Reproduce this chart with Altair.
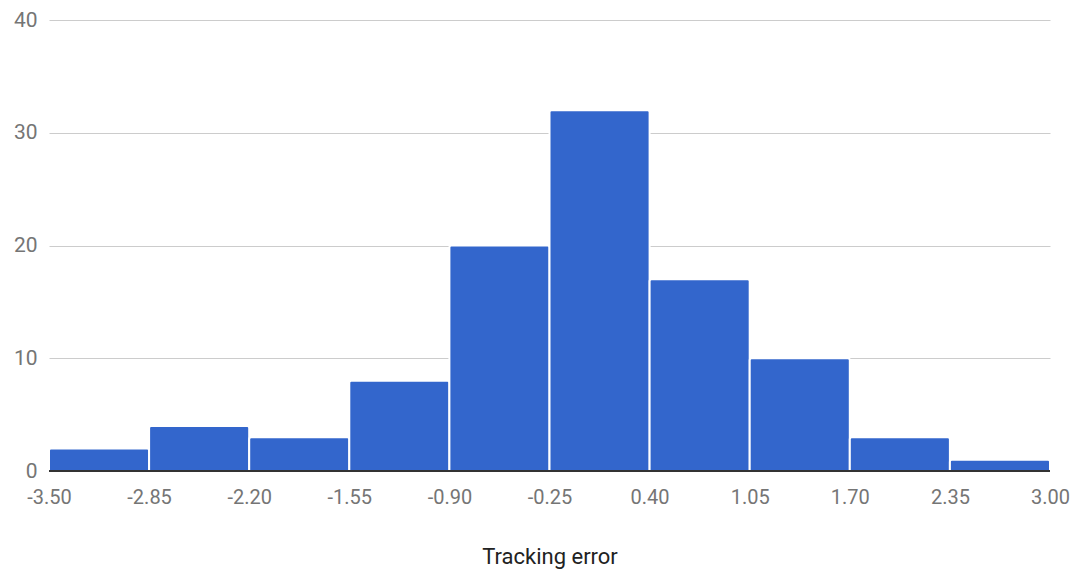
import altair as alt
import pandas as pd

bin_start = [-3.50, -2.85, -2.20, -1.55, -0.90, -0.25, 0.40, 1.05, 1.70, 2.35]
bin_end = [-2.85, -2.20, -1.55, -0.90, -0.25, 0.40, 1.05, 1.70, 2.35, 3.00]
counts = [2, 4, 3, 8, 20, 32, 17, 10, 3, 1]
tick_values = [-3.50, -2.85, -2.20, -1.55, -0.90, -0.25, 0.40, 1.05, 1.70, 2.35, 3.00]
y_ticks = [0, 10, 20, 30, 40]

df = pd.DataFrame({"start": bin_start, "end": bin_end, "count": counts})

font = "Roboto"

bars = alt.Chart(df).mark_bar(
    color="#3366cc",
    stroke="white",
    strokeWidth=2,
    cornerRadiusTopLeft=2,
    cornerRadiusTopRight=2,
    orient="vertical",
).encode(
    x=alt.X(
        "start:Q",
        scale=alt.Scale(domain=[-3.5, 3.0], nice=False, zero=False, padding=0),
        axis=alt.Axis(
            values=tick_values,
            labelExpr="(datum.value < 0 ? '-' : '') + format(abs(datum.value), '.2f')",
            title="Tracking error",
            titleFont=font,
            titleFontSize=22,
            titleFontWeight="normal",
            titleColor="#222222",
            titlePadding=39,
            labelFont=font,
            labelFontSize=20,
            labelColor="#757575",
            labelPadding=16,
            labelFlush=False,
            labelOverlap=False,
            grid=False,
            ticks=False,
            domain=False,
        ),
    ),
    x2="end:Q",
    y=alt.Y(
        "count:Q",
        scale=alt.Scale(domain=[0, 40], nice=False),
        axis=alt.Axis(
            values=y_ticks,
            title=None,
            labelFont=font,
            labelFontSize=21,
            labelColor="#757575",
            labelPadding=12,
            gridColor="#cccccc",
            gridWidth=1,
            ticks=False,
            domain=False,
        ),
    ),
    y2=alt.datum(0),
)

baseline = alt.Chart(pd.DataFrame({"y": [0]})).mark_rule(
    color="#333333", strokeWidth=2
).encode(y=alt.Y("y:Q"))

chart = alt.layer(bars, baseline).properties(
    width=1001,
    height=451,
    autosize=alt.AutoSizeParams(type="none"),
    padding={"left": 41, "top": 12, "right": 20, "bottom": 100},
).configure_view(strokeWidth=0, stroke="transparent")

chart.save("out.html", embed_options={"renderer": "svg", "actions": False})
